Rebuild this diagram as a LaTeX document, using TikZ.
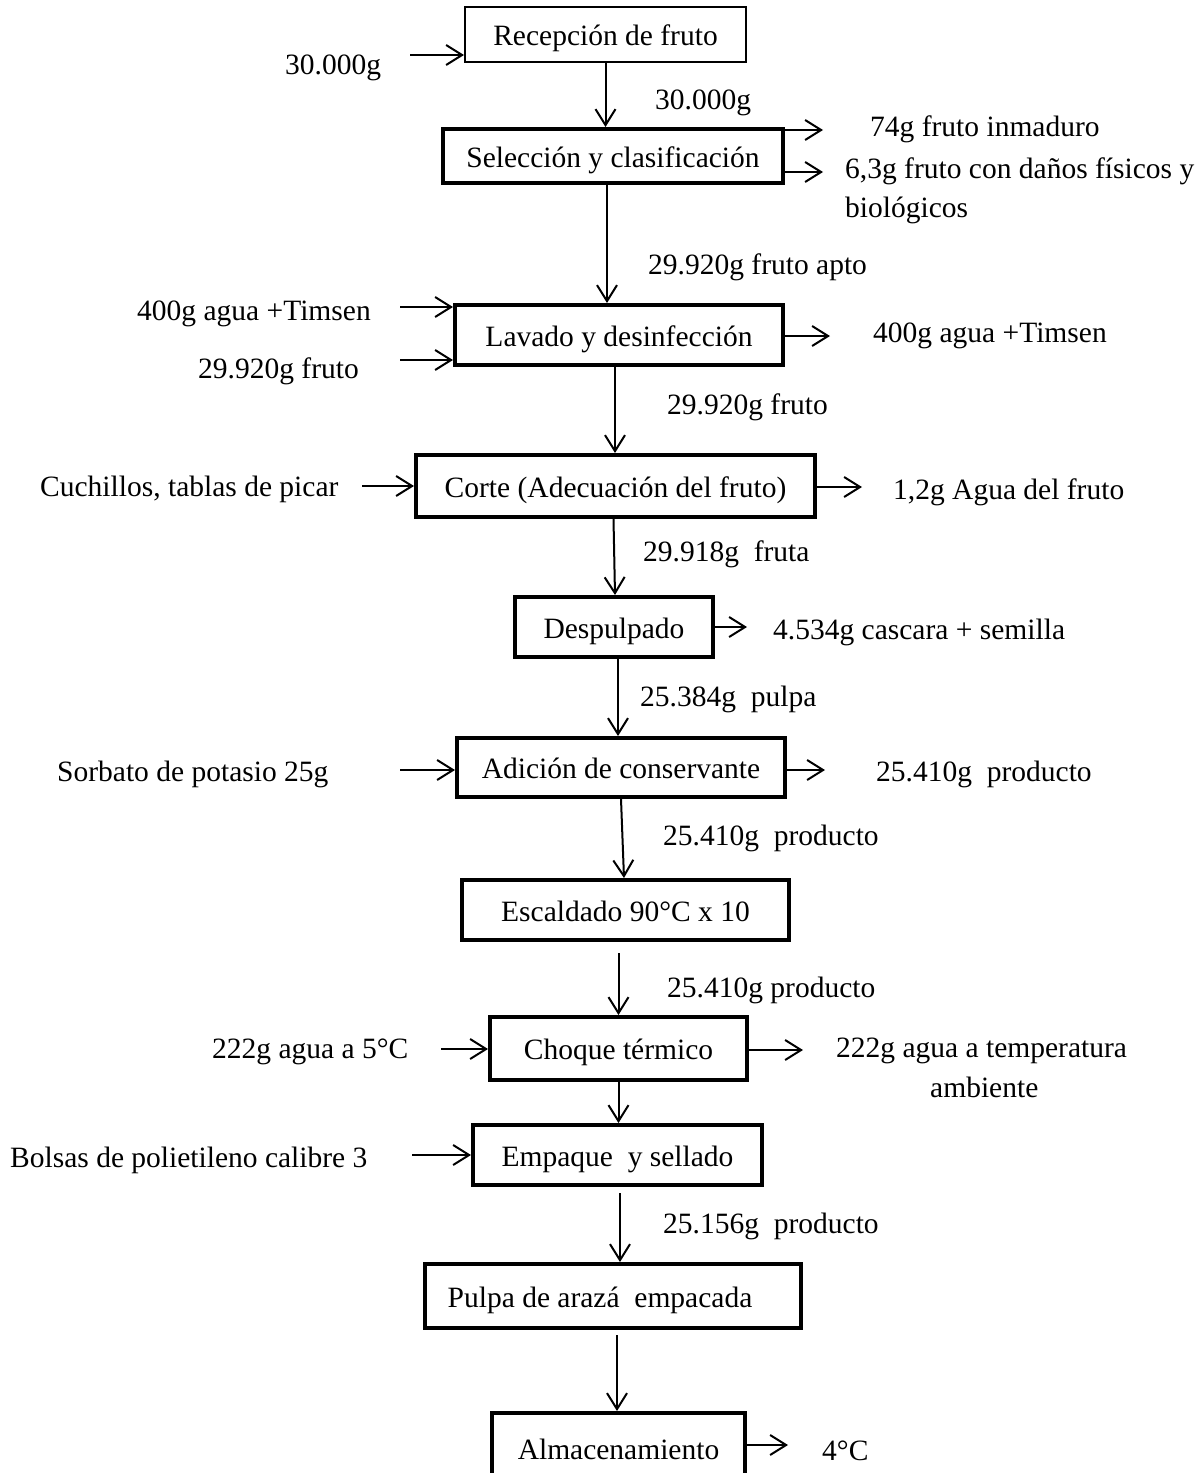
\documentclass[tikz,border=0pt]{standalone}
\usepackage{fontspec}
\setmainfont{Liberation Serif}
\usetikzlibrary{arrows.meta}
\newcommand{\fsz}{\fontsize{29.5}{34}\selectfont}
\begin{document}
\begin{tikzpicture}[x=1pt,y=-1pt,
  box/.style={draw, line width=4pt, inner sep=0pt, font=\fsz, text height=28pt, text depth=6pt, minimum height=#1},
  thinbox/.style={draw, line width=2pt, inner sep=0pt, font=\fsz, text height=28pt, text depth=6pt},
  lbl/.style={anchor=west, inner sep=0pt, font=\fsz, yshift=-3pt},
  arr/.style={line width=2pt, -{Straight Barb[length=16pt,width=20pt,line width=2pt]}}]
\path[use as bounding box] (0,0) rectangle (1202,1473);

% process boxes
\node[thinbox, minimum width=281pt, minimum height=55pt] (rec) at (605.5,34.5) {Recepción de fruto};
\node[box=54pt, minimum width=340pt] (sel) at (613,156) {Selección y clasificación};
\node[box=60pt, minimum width=328pt] (lav) at (619,335) {Lavado y desinfección};
\node[box=62pt, minimum width=399pt] (cor) at (615.5,486) {Corte (Adecuación del fruto)};
\node[box=60pt, minimum width=198pt] (des) at (614,627) {Despulpado};
\node[box=59pt, minimum width=328pt] (adi) at (621,767.5) {Adición de conservante};
\node[box=60pt, minimum width=327pt] (esc) at (625.5,910) {Escaldado 90°C x 10};
\node[box=63pt, minimum width=257pt] (cho) at (618.5,1048.5) {Choque térmico};
\node[box=60pt, minimum width=289pt] (emp) at (617.5,1155) {Empaque~ y sellado};
\node[box=64pt, minimum width=376pt] (pul) at (613,1296) {Pulpa de arazá~ empacada\hspace*{26pt}};
\node[box=70pt, minimum width=253pt] (alm) at (618.5,1448) {Almacenamiento};

% labels
\node[lbl] (t0) at (285,65) {30.000g};
\node[lbl] (t1) at (655,100) {30.000g};
\node[lbl] (t2) at (870,126) {74g fruto inmaduro};
\node[lbl] (t3) at (845,168) {6,3g fruto con daños físicos y};
\node[lbl] (t4) at (845,207) {biológicos};
\node[lbl] (t5) at (648,264) {29.920g fruto apto};
\node[lbl] (t6) at (137,311) {400g agua +Timsen};
\node[lbl] (t7) at (198,368) {29.920g fruto};
\node[lbl] (t8) at (873,333) {400g agua +Timsen};
\node[lbl] (t9) at (667,404) {29.920g fruto};
\node[lbl] (t10) at (40,486) {Cuchillos, tablas de picar};
\node[lbl] (t11) at (893,489) {1,2g Agua del fruto};
\node[lbl] (t12) at (643,551) {29.918g~ fruta};
\node[lbl] (t13) at (773,629) {4.534g cascara + semilla};
\node[lbl] (t14) at (640,696) {25.384g~ pulpa};
\node[lbl] (t15) at (57,771) {Sorbato de potasio 25g};
\node[lbl] (t16) at (876,771) {25.410g~ producto};
\node[lbl] (t17) at (663,835) {25.410g~ producto};
\node[lbl] (t18) at (667,987) {25.410g producto};
\node[lbl] (t19) at (212,1049) {222g agua a 5°C};
\node[lbl] (t20) at (836,1048) {222g agua a temperatura};
\node[lbl] (t21) at (930,1084) {ambiente};
\node[lbl] (t22) at (10,1157) {Bolsas de polietileno calibre 3};
\node[lbl] (t23) at (663,1223) {25.156g~ producto};
\node[lbl] (t24) at (822,1448) {4°C};

% main flow
\draw[arr] (rec.south) -- (rec.south |- sel.north);
\draw[arr] ([xshift=-6pt]sel.south) -- ([xshift=-6pt]sel.south |- lav.north);
\draw[arr] ([xshift=-4pt]lav.south) -- ([xshift=-4pt]lav.south |- cor.north);
\draw[arr] ([xshift=-2pt]cor.south) -- ([xshift=1pt]des.north);
\draw[arr] ([xshift=4pt]des.south) -- ([xshift=4pt]des.south |- adi.north);
\draw[arr] (adi.south) -- ([xshift=-1.5pt]esc.north);
\draw[arr] (cho.north |- esc.south) ++(0,11) -- (cho.north);
\draw[arr] (cho.south) -- (cho.south |- emp.north);
\draw[arr] ([xshift=2.5pt]emp.south) ++(0,6) -- ([xshift=2.5pt]emp.south |- pul.north);
\draw[arr] ([xshift=4pt]pul.south) ++(0,5) -- ([xshift=4pt]pul.south |- alm.north);

% side inputs
\coordinate (i0) at (410,55);
\coordinate (i1) at (400,307);
\coordinate (i2) at (400,360);
\coordinate (i3) at (362,486);
\coordinate (i4) at (400,770);
\coordinate (i5) at (441,1049);
\coordinate (i6) at (412,1155);
\draw[arr] (i0) -- (i0 -| rec.west);
\draw[arr] (i1) -- (i1 -| lav.west);
\draw[arr] (i2) -- (i2 -| lav.west);
\draw[arr] (i3) -- (i3 -| cor.west);
\draw[arr] (i4) -- (i4 -| adi.west);
\draw[arr] (i5) -- (i5 -| cho.west);
\draw[arr] (i6) -- (i6 -| emp.west);

% side outputs
\coordinate (o1) at (823,130);
\coordinate (o2) at (823,172);
\coordinate (o3) at (830,336);
\coordinate (o4) at (862,487);
\coordinate (o5) at (747,627);
\coordinate (o6) at (825,770);
\coordinate (o7) at (803,1050);
\coordinate (o8) at (788,1445);
\draw[arr] (o1 -| sel.east) -- (o1);
\draw[arr] (o2 -| sel.east) -- (o2);
\draw[arr] (o3 -| lav.east) -- (o3);
\draw[arr] (o4 -| cor.east) -- (o4);
\draw[arr] (o5 -| des.east) -- (o5);
\draw[arr] (o6 -| adi.east) -- (o6);
\draw[arr] (o7 -| cho.east) -- (o7);
\draw[arr] (o8 -| alm.east) -- (o8);
\end{tikzpicture}
\end{document}
